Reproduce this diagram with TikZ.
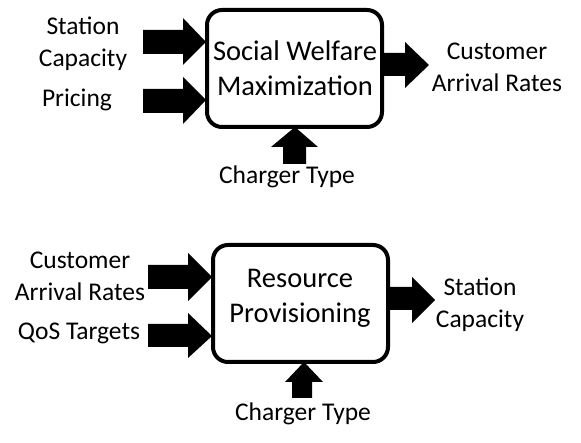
\documentclass[tikz,border=0pt]{standalone}
\usepackage{fontspec}
\setmainfont{Carlito}
\begin{document}
\begin{tikzpicture}[x=1pt,y=-1pt,
  blk/.style={draw,line width=4pt,rounded corners=15pt,inner sep=0pt},
  lbl/.style={font=\fontsize{25.5}{32}\selectfont,align=center,inner sep=0pt},
  inlbl/.style={font=\fontsize{28.5}{35}\selectfont,align=center,inner sep=0pt},
  fat/.style={fill=black}]
\useasboundingbox (0,0) rectangle (581,443);
% top block
\draw[blk] (207,10) rectangle (382,127);
\node[inlbl] (sw) at (295,68) {Social Welfare\\Maximization};
\node[lbl] (sc1) at (83,44) {Station\\Capacity};
\node[lbl] (pr1) at (77,100) {Pricing};
\node[lbl] (car1) at (497,67) {Customer\\Arrival Rates};
\node[lbl] (ct1) at (287,177) {Charger Type};
% arrows top
\fill[fat] (143,30) -- (183,30) -- (183,18) -- (206,42) -- (183,65) -- (183,54) -- (143,54) -- cycle;
\fill[fat] (143,89) -- (183,89) -- (183,77) -- (206,100) -- (183,124) -- (183,113) -- (143,113) -- cycle;
\fill[fat] (382,53) -- (405,53) -- (405,42) -- (429,65) -- (405,88) -- (405,76) -- (382,76) -- cycle;
\fill[fat] (283,164) -- (283,147) -- (271,147) -- (295,127) -- (318,147) -- (306,147) -- (306,164) -- cycle;
% bottom block
\draw[blk] (213,245) rectangle (388,362);
\node[inlbl] (rp) at (300,298) {Resource\\Provisioning};
\node[lbl] (car2) at (80,276) {Customer\\Arrival Rates};
\node[lbl] (qos) at (79,333) {QoS Targets};
\node[lbl] (sc2) at (480,305) {Station\\Capacity};
\node[lbl] (ct2) at (303,414) {Charger Type};
\fill[fat] (148,265) -- (188,265) -- (188,253) -- (212,277) -- (188,301) -- (188,289) -- (148,289) -- cycle;
\fill[fat] (148,324) -- (188,324) -- (188,313) -- (212,336) -- (188,358) -- (188,347) -- (148,347) -- cycle;
\fill[fat] (388,287) -- (412,287) -- (412,277) -- (435,300) -- (412,323) -- (412,310) -- (388,310) -- cycle;
\fill[fat] (292,398) -- (292,382) -- (285,382) -- (304,362) -- (323,382) -- (312,382) -- (312,398) -- cycle;
\end{tikzpicture}
\end{document}
